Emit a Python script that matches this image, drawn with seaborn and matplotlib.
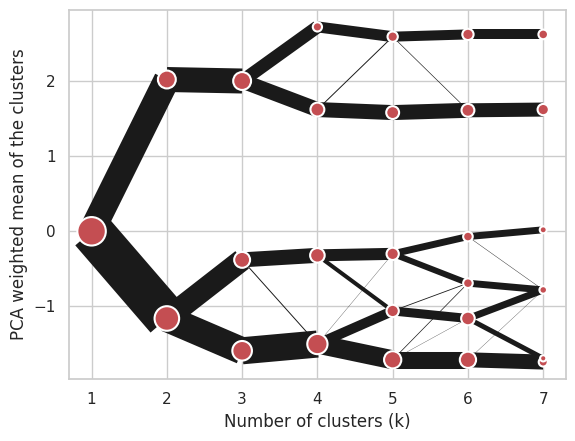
import seaborn as sns
import pandas as pd
import matplotlib
matplotlib.use("Agg")
import matplotlib.pyplot as plt

# cluster centres (PCA weighted mean) for every k
node_k = [1,
          2, 2,
          3, 3, 3,
          4, 4, 4, 4,
          5, 5, 5, 5, 5,
          6, 6, 6, 6, 6, 6,
          7, 7, 7, 7, 7, 7]
node_mean = [0.00,
             2.02, -1.16,
             2.00, -0.38, -1.59,
             2.72, 1.62, -0.32, -1.50,
             2.59, 1.58, -0.30, -1.06, -1.71,
             2.62, 1.61, -0.07, -0.69, -1.16, -1.71,
             2.62, 1.62, 0.02, -0.78, -1.74, -1.69]
# relative cluster size (out of 1000)
node_n = [1000,
          395, 745,
          395, 312, 474,
          105, 238, 262, 507,
          131, 205, 186, 186, 367,
          157, 205, 114, 114, 229, 326,
          114, 157, 60, 71, 100, 48]

# moves between k and k+1: source cluster index -> target cluster index, count
edge_k = [1, 1,
          2, 2, 2,
          3, 3, 3, 3, 3,
          4, 4, 4, 4, 4, 4, 4, 4,
          5, 5, 5, 5, 5, 5, 5, 5, 5, 5,
          6, 6, 6, 6, 6, 6, 6, 6, 6]
edge_src = [0, 0,
            0, 1, 1,
            0, 0, 1, 1, 2,
            0, 1, 1, 2, 2, 3, 3, 3,
            0, 0, 1, 2, 2, 3, 3, 4, 4, 4,
            0, 1, 2, 2, 3, 4, 4, 5, 5]
edge_dst = [0, 1,
            0, 1, 2,
            0, 1, 2, 3, 3,
            0, 0, 1, 2, 3, 2, 3, 4,
            0, 1, 1, 2, 3, 3, 4, 3, 4, 5,
            0, 1, 2, 3, 3, 3, 5, 4, 3]
edge_n = [375, 620,
          360, 317, 390,
          187, 216, 216, 14, 390,
          158, 14, 216, 173, 58, 4, 144, 274,
          144, 9, 216, 100, 86, 12, 130, 10, 4, 245,
          144, 202, 100, 6, 100, 100, 72, 216, 4]

N = 1000

nodes = pd.DataFrame({"k": node_k, "mean": node_mean, "n": node_n})


def centre(k, i):
    return nodes[nodes["k"] == k]["mean"].iloc[i]


rows = []
for e, (k, s, d, n) in enumerate(zip(edge_k, edge_src, edge_dst, edge_n)):
    rows.append({"edge": e, "k": k, "mean": centre(k, s), "n": n})
    rows.append({"edge": e, "k": k + 1, "mean": centre(k + 1, d), "n": n})
edges = pd.DataFrame(rows)

sns.set_theme(style="whitegrid")
fig, ax = plt.subplots(figsize=(5.75, 4.41), dpi=100)
fig.subplots_adjust(left=0.12, right=0.984, bottom=0.141, top=0.977)

sns.lineplot(
    data=edges, x="k", y="mean", units="edge", estimator=None,
    size="n", size_norm=(0, N), sizes=(0, 50),
    color="#1a1a1a", legend=False, solid_capstyle="butt", ax=ax
)
sns.scatterplot(
    data=nodes, x="k", y="mean",
    size="n", size_norm=(0, N), sizes=(0, 420),
    color="r", edgecolor="w", linewidth=1.5, zorder=3, legend=False, ax=ax
)

ax.set_xticks(range(1, 8))
ax.set_xlabel("Number of clusters (k)")
ax.set_ylabel("PCA weighted mean of the clusters")

fig.savefig("out.png", dpi=100)
